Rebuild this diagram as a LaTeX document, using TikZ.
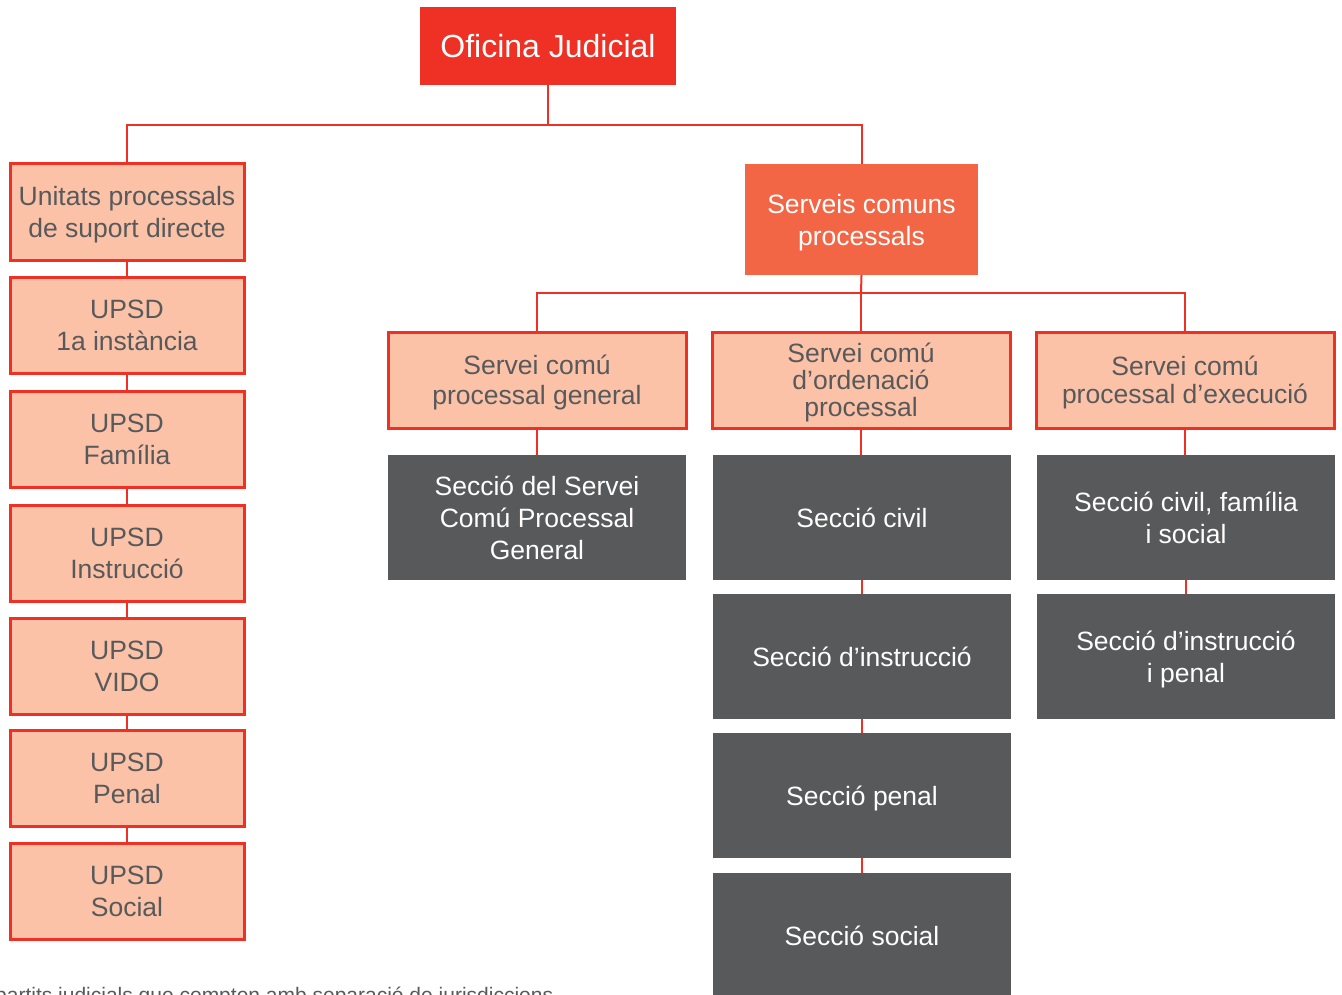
\documentclass[tikz,border=0pt]{standalone}
\usepackage{fontspec}
\setmainfont{Liberation Sans}
\definecolor{ojred}{HTML}{EE3124}
\definecolor{peach}{HTML}{FBC2A7}
\definecolor{orangebox}{HTML}{F26645}
\definecolor{darkbox}{HTML}{58595B}
\begin{document}
\begin{tikzpicture}[x=1pt,y=-1pt,
  base/.style={rectangle,inner sep=0pt,align=center,text depth=0pt,font=\fontsize{26.5}{32}\selectfont},
  topbox/.style={base,fill=ojred,text=white,font=\fontsize{32}{38}\selectfont},
  svcbox/.style={base,fill=orangebox,text=white},
  peachbox/.style={base,fill=peach,draw=ojred,line width=3pt,text=darkbox},
  sectbox/.style={base,fill=darkbox,text=white},
  conn/.style={draw=ojred,line width=2pt}]
\useasboundingbox (0,0) rectangle (1342,994);
\clip (0,0) rectangle (1342,994);
\fill[white] (0,0) rectangle (1342,994);

% top level
\node[topbox,minimum width=256pt,minimum height=78pt] (oj) at (548,46) {Oficina Judicial};

% left column: direct support units
\node[peachbox,minimum width=234pt,minimum height=97pt] (u0) at (127,211.5) {Unitats processals\\de suport directe};
\node[peachbox,minimum width=234pt,minimum height=96pt] (u1) at (127,325) {UPSD\\1a instància};
\node[peachbox,minimum width=234pt,minimum height=96pt] (u2) at (127,439) {UPSD\\Família};
\node[peachbox,minimum width=234pt,minimum height=96pt] (u3) at (127,553) {UPSD\\Instrucció};
\node[peachbox,minimum width=234pt,minimum height=96pt] (u4) at (127,666) {UPSD\\VIDO};
\node[peachbox,minimum width=234pt,minimum height=96pt] (u5) at (127,778) {UPSD\\Penal};
\node[peachbox,minimum width=234pt,minimum height=96pt] (u6) at (127,891) {UPSD\\Social};

% common procedural services
\node[svcbox,minimum width=233pt,minimum height=111pt] (scp) at (861.5,219.5) {Serveis comuns\\processals};

\node[peachbox,minimum width=298pt,minimum height=96pt,font=\fontsize{26.5}{30}\selectfont] (sg) at (537,380) {Servei comú\\processal general};
\node[peachbox,minimum width=298pt,minimum height=96pt,font=\fontsize{26.5}{27}\selectfont] (so) at (861,380) {Servei comú\\d’ordenació\\processal};
\node[peachbox,minimum width=298pt,minimum height=96pt,font=\fontsize{26.5}{28}\selectfont] (se) at (1185,380) {Servei comú\\processal d’execució};

% sections
\node[sectbox,minimum width=298pt,minimum height=125pt] (dg) at (537,517.5) {Secció del Servei\\Comú Processal\\General};
\node[sectbox,minimum width=298pt,minimum height=125pt] (d1) at (862,517.5) {Secció civil};
\node[sectbox,minimum width=298pt,minimum height=125pt] (d2) at (862,656.5) {Secció d’instrucció};
\node[sectbox,minimum width=298pt,minimum height=125pt] (d3) at (862,795.5) {Secció penal};
\node[sectbox,minimum width=298pt,minimum height=125pt] (d4) at (862,935.5) {Secció social};
\node[sectbox,minimum width=298pt,minimum height=125pt] (e1) at (1186,517.5) {Secció civil, família\\i social};
\node[sectbox,minimum width=298pt,minimum height=125pt] (e2) at (1186,656.5) {Secció d’instrucció\\i penal};

% connectors
\coordinate (bus1) at (548,125);
\coordinate (bus2) at (861,293);
\draw[conn] (oj.south) -- (bus1);
\draw[conn] (u0.north) |- (bus1) -| (scp.north);
\draw[conn] (u0.south) -- (u1.north);
\draw[conn] (u1.south) -- (u2.north);
\draw[conn] (u2.south) -- (u3.north);
\draw[conn] (u3.south) -- (u4.north);
\draw[conn] (u4.south) -- (u5.north);
\draw[conn] (u5.south) -- (u6.north);
\draw[conn] (scp.south) -- (bus2);
\draw[conn] (sg.north) |- (bus2) -| (se.north);
\draw[conn] (bus2) -- (so.north);
\draw[conn] (sg.south) -- (dg.north);
\draw[conn] (so.south) -- (so.south |- d1.north);
\draw[conn] (d1.south) -- (d2.north);
\draw[conn] (d2.south) -- (d3.north);
\draw[conn] (d3.south) -- (d4.north);
\draw[conn] (se.south) -- (se.south |- e1.north);
\draw[conn] (e1.south) -- (e2.north);

% footnote
\node[anchor=base west,inner sep=0pt,text=darkbox,font=\fontsize{21}{24}\selectfont] (note) at (-5,1002) {partits judicials que compten amb separació de jurisdiccions};
\end{tikzpicture}
\end{document}
